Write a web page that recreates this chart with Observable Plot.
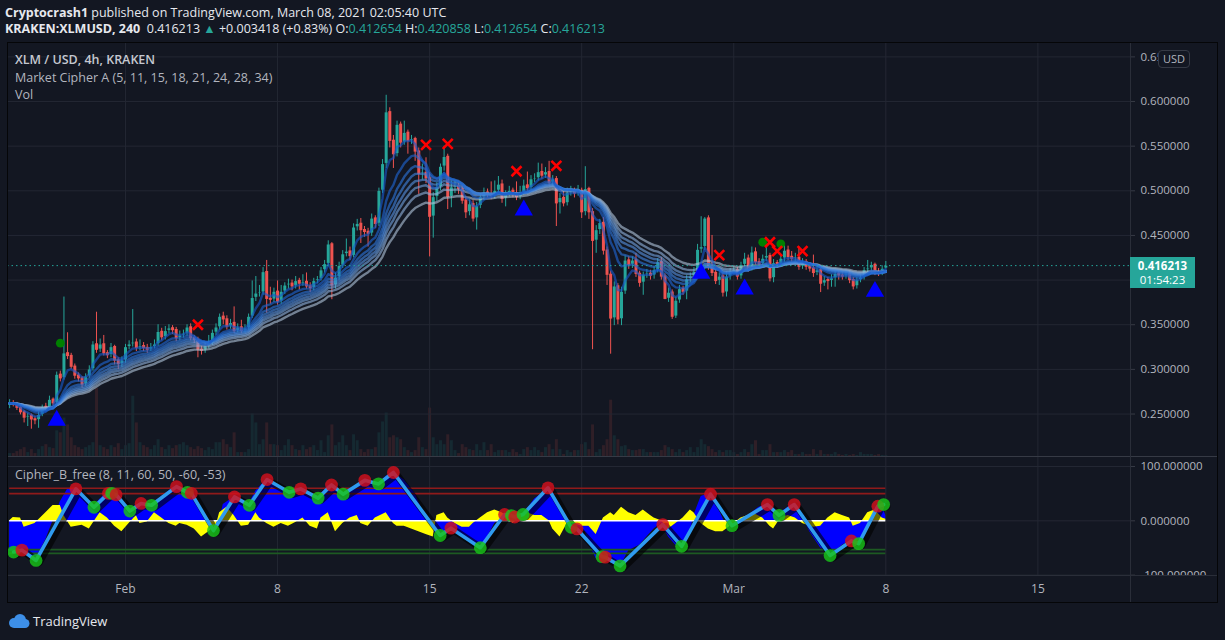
<!DOCTYPE html>
<html><head><meta charset="utf-8">
<script src="https://cdn.jsdelivr.net/npm/d3@7"></script>
<script src="https://cdn.jsdelivr.net/npm/@observablehq/plot@0.6"></script>
<style>
html,body{margin:0;padding:0;background:#131722;}
#root{position:relative;width:1225px;height:640px;overflow:hidden;background:#131722;font-family:'Open Sans','Noto Sans',sans-serif;}
#root svg{position:absolute;left:0;}
.abs{position:absolute;white-space:nowrap;}
.hd{color:#e6e8ee;font-size:12.5px;line-height:17px;left:5px;}
.lg{color:#b2b5be;font-size:12.5px;line-height:17px;left:15px;}
.tl{color:#26a69a;}
</style></head>
<body><div id="root"></div>
<script>
// ---------------- DATA ----------------
const seriesStart = "2021-01-26T16:00:00Z";   // first 4h candle
const firstOpen = 0.259;
const close = [
0.262,0.261,0.257,0.252,0.246,0.248,0.244,0.243,0.249,0.258,
0.256,0.266,0.262,0.294,0.290,0.318,0.315,0.303,0.293,0.290,
0.283,0.292,0.300,0.328,0.322,0.328,0.318,0.316,0.325,0.310,
0.306,0.310,0.325,0.328,0.330,0.324,0.326,0.324,0.322,0.325,
0.328,0.342,0.336,0.343,0.346,0.344,0.335,0.338,0.340,0.347,
0.335,0.333,0.322,0.321,0.326,0.329,0.341,0.347,0.359,0.356,
0.348,0.352,0.343,0.347,0.343,0.346,0.359,0.380,0.385,0.386,
0.409,0.379,0.378,0.387,0.376,0.387,0.394,0.396,0.393,0.399,
0.396,0.398,0.393,0.391,0.399,0.401,0.411,0.418,0.440,0.394,
0.403,0.416,0.429,0.432,0.427,0.459,0.463,0.456,0.454,0.452,
0.469,0.463,0.500,0.530,0.588,0.556,0.541,0.574,0.554,0.565,
0.556,0.558,0.544,0.519,0.520,0.514,0.471,0.493,0.504,0.527,
0.538,0.493,0.504,0.505,0.502,0.489,0.476,0.485,0.469,0.483,
0.493,0.498,0.496,0.494,0.500,0.507,0.491,0.496,0.500,0.497,
0.493,0.498,0.506,0.503,0.513,0.514,0.521,0.517,0.521,0.509,
0.513,0.486,0.492,0.486,0.498,0.500,0.497,0.500,0.476,0.502,
0.476,0.444,0.456,0.464,0.433,0.406,0.357,0.393,0.356,0.387,
0.422,0.417,0.422,0.407,0.397,0.406,0.407,0.405,0.411,0.420,
0.404,0.379,0.386,0.359,0.377,0.390,0.387,0.401,0.404,0.409,
0.434,0.437,0.469,0.415,0.408,0.399,0.404,0.386,0.404,0.409,
0.411,0.404,0.417,0.424,0.413,0.431,0.420,0.418,0.424,0.427,
0.402,0.419,0.417,0.424,0.433,0.426,0.424,0.425,0.415,0.420,
0.415,0.413,0.408,0.411,0.396,0.400,0.399,0.402,0.407,0.405,
0.404,0.407,0.400,0.393,0.400,0.403,0.411,0.413,0.417,0.409,
0.407,0.412795,0.416213];
const high = [
0.266,0.265,0.263,0.259,0.254,0.251,0.250,0.247,0.252,0.260,
0.262,0.270,0.268,0.297,0.298,0.381,0.341,0.318,0.306,0.296,
0.292,0.295,0.304,0.331,0.364,0.334,0.338,0.321,0.329,0.327,
0.313,0.314,0.328,0.332,0.367,0.334,0.333,0.330,0.328,0.329,
0.333,0.350,0.346,0.348,0.350,0.349,0.347,0.343,0.344,0.350,
0.351,0.338,0.336,0.326,0.330,0.338,0.344,0.351,0.362,0.364,
0.360,0.356,0.370,0.351,0.355,0.350,0.362,0.399,0.404,0.394,
0.414,0.422,0.392,0.391,0.399,0.394,0.397,0.401,0.400,0.404,
0.402,0.406,0.408,0.397,0.402,0.404,0.414,0.422,0.444,0.442,
0.408,0.420,0.433,0.446,0.437,0.463,0.468,0.469,0.460,0.458,
0.474,0.472,0.503,0.535,0.607,0.593,0.562,0.578,0.577,0.578,
0.568,0.562,0.560,0.548,0.530,0.537,0.520,0.498,0.509,0.530,
0.550,0.541,0.511,0.511,0.508,0.506,0.494,0.490,0.489,0.487,
0.497,0.503,0.502,0.510,0.511,0.516,0.512,0.500,0.505,0.503,
0.510,0.505,0.512,0.521,0.517,0.519,0.531,0.530,0.526,0.533,
0.517,0.516,0.497,0.499,0.503,0.505,0.503,0.506,0.503,0.527,
0.504,0.480,0.461,0.468,0.470,0.437,0.410,0.398,0.396,0.392,
0.427,0.426,0.426,0.430,0.410,0.409,0.412,0.411,0.415,0.424,
0.425,0.407,0.391,0.389,0.381,0.394,0.393,0.405,0.408,0.414,
0.440,0.471,0.470,0.472,0.450,0.412,0.408,0.407,0.409,0.413,
0.415,0.414,0.420,0.430,0.428,0.437,0.436,0.424,0.428,0.437,
0.430,0.423,0.422,0.428,0.439,0.438,0.432,0.430,0.437,0.424,
0.423,0.418,0.428,0.414,0.413,0.404,0.403,0.406,0.411,0.410,
0.408,0.411,0.410,0.403,0.403,0.406,0.414,0.422,0.420,0.419,
0.413,0.416,0.420858];
const low = [
0.256,0.258,0.254,0.249,0.240,0.236,0.233,0.238,0.234,0.247,
0.253,0.254,0.259,0.260,0.286,0.288,0.311,0.300,0.289,0.286,
0.279,0.281,0.290,0.298,0.318,0.319,0.315,0.312,0.313,0.305,
0.300,0.302,0.307,0.322,0.325,0.320,0.321,0.320,0.318,0.320,
0.323,0.326,0.332,0.333,0.340,0.339,0.331,0.332,0.335,0.337,
0.332,0.329,0.313,0.316,0.318,0.323,0.327,0.338,0.344,0.350,
0.344,0.345,0.340,0.341,0.340,0.341,0.344,0.357,0.376,0.381,
0.383,0.363,0.373,0.375,0.372,0.373,0.384,0.390,0.388,0.390,
0.389,0.393,0.390,0.386,0.388,0.396,0.399,0.408,0.415,0.378,
0.390,0.400,0.413,0.426,0.422,0.425,0.455,0.441,0.448,0.437,
0.449,0.458,0.460,0.497,0.525,0.548,0.525,0.538,0.548,0.551,
0.541,0.552,0.533,0.496,0.512,0.508,0.426,0.447,0.488,0.500,
0.522,0.479,0.481,0.497,0.496,0.485,0.469,0.472,0.465,0.456,
0.480,0.489,0.492,0.490,0.491,0.497,0.486,0.482,0.493,0.492,
0.489,0.490,0.495,0.499,0.500,0.509,0.511,0.513,0.514,0.505,
0.505,0.460,0.474,0.482,0.483,0.494,0.492,0.494,0.469,0.472,
0.468,0.322,0.430,0.451,0.428,0.394,0.317,0.349,0.350,0.349,
0.384,0.412,0.413,0.403,0.392,0.383,0.402,0.400,0.401,0.408,
0.400,0.378,0.375,0.356,0.357,0.374,0.383,0.378,0.397,0.400,
0.405,0.430,0.433,0.411,0.404,0.395,0.394,0.381,0.381,0.400,
0.406,0.400,0.401,0.414,0.409,0.410,0.417,0.414,0.415,0.421,
0.398,0.397,0.413,0.414,0.420,0.422,0.420,0.421,0.411,0.412,
0.411,0.409,0.403,0.405,0.386,0.393,0.389,0.392,0.392,0.400,
0.400,0.401,0.396,0.389,0.390,0.397,0.400,0.408,0.410,0.405,
0.404,0.405,0.412654];
const volume = [
4,4,6,8,10,5,8,4,8,11,13,10,9,
27,25,40,33,20,12,10,8,
10,12,15,70,12,10,8,12,10,14,8,
12,14,62,35,15,12,10,8,12,18,
10,8,12,9,12,13,15,12,10,8,11,9,7,10,8,15,15,18,13,10,25,5,5,5,8,44,35,13,18,35,13,13,12,7,12,18,12,8,7,12,8,
10,12,7,17,5,22,33,12,15,22,12,7,23,17,8,5,8,8,10,25,36,45,20,22,20,18,10,7,5,7,20,10,8,50,20,13,17,13,23,17,7,4,
13,10,8,7,13,7,15,7,13,5,7,7,7,5,8,5,3,8,10,7,
10,7,5,10,13,8,18,8,3,7,5,7,7,13,15,8,33,5,8,12,18,
58,22,18,11,12,8,7,7,8,8,5,5,5,5,7,12,10,8,5,8,5,7,10,5,10,18,13,11,8,5,7,5,7,7,5,3,5,8,5,13,17,
3,7,7,13,5,5,5,7,5,7,3,3,5,3,3,8,3,7,3,3,3,5,3,2,3,2,3,2,5,3,3,3,2,3,2,2];

// Market Cipher A ribbon lengths
const emaLengths = [5, 11, 15, 18, 21, 24, 28, 34];
const ribbonColors = ["#1659c9","#1f66d2","#2c74d8","#3f82db","#5690db","#709fda","#8eb0d8","#adc1d6"];

// Market Cipher A signals (candle index, price level)
const triIdx = [13, 142, 191, 203, 239];
const triPrice = [0.2428, 0.4783, 0.4074, 0.3898, 0.3872];
const crossSigIdx = [52, 115, 121, 140, 151, 196, 210, 212, 219];
const crossSigPrice = [0.350, 0.5515, 0.5526, 0.5219, 0.528, 0.4279, 0.4424, 0.4324, 0.4324];
const greenSigIdx = [14, 208, 213];
const greenSigPrice = [0.3293, 0.4424, 0.4406];

// Cipher B: wave crosses (index, value, direction)
const crossIdx = [1.1,3.4,7.3,18.3,23.3,27.3,28.2,29.4,33.2,36.3,39.2,46.1,49.1,50.2,56.3,62.1,66.2,71.1,77.2,80.4,85.2,88.9,92.1,98.1,101.9,106,118.9,121.9,130,136.7,138.6,139.5,141.8,148.7,155.1,156.7,163.6,164.5,168.6,180.4,185.6,193.6,199.5,209.3,212.5,216.7,226.6,232.5,234.5,239.8,241.4];
const crossVal = [-57.5,-54,-73,59,25,50.6,50.6,48,18,32,28.6,63,52.5,50.6,-18,44,28.6,76,52.5,58.8,41.8,66,49,74.5,68,89,-27,-13.5,-49.5,11.6,9.7,7,11.6,60.7,-12,-15,-66,-67,-83,-7,-47,49,-9,30,10,30,-64,-37,-42,27,30];
const crossDir = ["up","down","up","down","up","down","up","down","up","down","up","down","up","down","up","down","up","down","up","down","up","down","up","down","up","down","up","down","up","down","up","down","up","down","up","down","up","down","up","down","up","down","up","down","up","down","up","down","up","down","up"];
// Cipher B: wave area (blue)
const waveIdx = [0,3,7,10,12,14,16,18,21,23,25,27,29,32,33,34,36,39,42,45,46,49,51,53,55,56,58,59,62,64,66,68,71,74,77,80,83,85,88,89,92,95,98,102,104,106,109,112,114,116,117,119,121,124,127,129,130,132,134,136,138,142,145,149,151,154,156,159,160,162,164,166,169,171,174,176,178,180,182,184,186,188,189,191,194,196,198,199,202,205,207,209,211,214,216,219,221,224,227,230,232,235,237,239,241,242];
const waveVal = [-57,-55,-73,-35,0,35,58,60,40,25,40,52,48,30,18,25,32,29,45,60,63,52,45,25,0,-18,0,30,44,35,29,55,76,60,52,57,45,40,65,66,50,60,74,68,82,89,75,50,20,0,-20,-27,-15,-25,-40,-48,-49,-30,-5,5,10,12,40,60,40,0,-12,-20,-40,-70,-60,-78,-80,-55,-45,-30,-15,-5,-30,-45,-47,-20,10,45,52,20,-10,-8,-5,15,25,30,15,20,30,5,-20,-50,-62,-45,-37,-35,-10,15,27,10];
// Cipher B: money flow area (yellow)
const flowIdx = [0,1,3,4,7,10,12,14,15,17,20,22,24,25,27,29,31,33,35,36,38,40,42,44,46,47,49,51,53,55,57,58,60,62,64,66,68,69,71,73,75,77,79,81,83,85,86,88,90,92,94,96,97,99,101,104,106,107,109,111,113,115,117,118,120,121,123,125,127,128,130,132,134,136,138,139,141,143,145,147,149,150,152,154,156,158,160,162,164,166,167,169,171,173,175,177,178,180,182,184,186,188,189,191,193,195,197,199,200,202,204,206,208,210,211,213,215,217,219,221,222,224,226,228,230,232,233,235,237,239,241,242];
const flowVal = [0,6,5,-12,-5,15,28,28,10,-12,-8,-15,5,15,5,-10,-20,-5,10,-5,-2,15,5,-5,-10,-5,-8,-15,-30,-20,-10,15,25,10,-10,-8,15,5,-5,-12,-5,-10,-3,5,-10,-15,5,15,-20,-5,5,10,-5,-10,5,15,-5,-10,-10,-15,-20,-25,-30,10,15,5,-5,-12,-12,-5,5,15,20,15,5,-5,10,15,10,10,0,-15,-30,-5,-5,-10,-10,-25,5,15,10,25,15,10,20,10,5,0,-15,-5,5,20,15,-5,-15,-20,-20,-10,-5,5,10,12,5,-10,-15,5,10,5,-5,-10,-12,-10,5,15,10,5,-10,-5,15,20,5,3];
const obLevels = [60, 50];
const osLevels = [-53, -60];

// axes
const priceGridTicks = [0.25,0.30,0.35,0.40,0.45,0.50,0.55,0.60,0.65];
const priceLabelTicks = [0.25,0.30,0.35,0.45,0.50,0.55,0.60,0.65]; // 0.40 sits under the last-price label
const oscTicks = [-100, 0, 100];
const dateTicks = ["2021-02-01","2021-02-08","2021-02-15","2021-02-22","2021-03-01","2021-03-08","2021-03-15"];
const dateTickLabels = ["Feb","8","15","22","Mar","8","15"];

// ---------------- BUILD ----------------
const H4 = 4 * 3600 * 1000;
const t0 = new Date(seriesStart).getTime();
const T = i => new Date(t0 + i * H4);
const candles = close.map((c, i) => {
  const o = i ? close[i - 1] : firstOpen;
  return {t: T(i), o, h: high[i], l: low[i], c, v: volume[i], up: c >= o};
});
const last = candles[candles.length - 1];
const lastI = candles.length - 1;
const xTicks = dateTicks.map(s => new Date(s + "T00:00:00Z"));
const tickLabel = d => dateTickLabels[xTicks.findIndex(x => +x === +d)] ?? "";
const xDomain = [T(-0.59), T(309.58)];
const UP = "#26a69a", DN = "#ef5350", GRID = "#232733", TXT = "#b2b5be";
const FONT = "'Open Sans','Noto Sans',sans-serif";
const emaMap = n => values => { const a = 2 / (n + 1); let p; return Array.from(values, v => (p = p === undefined ? v : a * v + (1 - a) * p)); };
const rows = (idx, val, extra) => idx.map((i, k) => ({t: T(i), v: val[k], ...(extra ? {d: extra[k]} : {})}));

const common = {width: 1225, marginLeft: 7, marginRight: 95, marginTop: 0,
  style: {background: "transparent", color: TXT, fontFamily: FONT, fontSize: "11.5px", overflow: "visible"},
  color: {type: "identity"}};

// volume pane (behind price)
const volPlot = Plot.plot({...common, height: 415, marginBottom: 0,
  x: {type: "utc", domain: xDomain, axis: null},
  y: {domain: [0, 6 * d3.max(volume)], axis: null},
  marks: [
    Plot.ruleX(candles, {x: "t", y1: () => 0, y2: "v", stroke: d => d.up ? UP : DN, strokeWidth: 3, strokeOpacity: 0.13})
  ]});

// price pane
const mainPlot = Plot.plot({...common, height: 415, marginBottom: 0,
  x: {type: "utc", domain: xDomain, axis: null},
  y: {domain: [0.2013, 0.6661], axis: null},
  marks: [
    Plot.gridX(xTicks, {stroke: GRID, strokeOpacity: 1}),
    Plot.gridY(priceGridTicks, {stroke: GRID, strokeOpacity: 1}),
    Plot.axisY(priceLabelTicks, {anchor: "right", label: null, tickSize: 4, tickPadding: 6, stroke: "#363a45", fill: TXT, tickFormat: d => d.toFixed(6)}),
    Plot.ruleX(candles, {x: "t", y1: "l", y2: "h", stroke: d => d.up ? UP : DN, strokeWidth: 1, clip: true}),
    Plot.ruleX(candles, {x: "t", y1: "o", y2: "c", stroke: d => d.up ? UP : DN, strokeWidth: 3, insetTop: -0.6, insetBottom: -0.6, clip: true}),
    ...emaLengths.map((n, k) => ({n, k})).reverse().map(({n, k}) =>
      Plot.lineY(candles, Plot.mapY(emaMap(n), {x: "t", y: "c", stroke: ribbonColors[k], strokeWidth: 2.4, strokeOpacity: 0.62, clip: true}))),
    Plot.ruleY([last.c], {stroke: UP, strokeDasharray: "1.5,3", strokeWidth: 1}),
    Plot.dot(rows(greenSigIdx, greenSigPrice), {x: "t", y: "v", r: 4.4, fill: "#008000"}),
    Plot.dot(rows(crossSigIdx, crossSigPrice), {x: "t", y: "v", symbol: "times", r: 4.6, stroke: "#ff0000", strokeWidth: 2.6}),
    Plot.dot(rows(triIdx, triPrice), {x: "t", y: "v", symbol: "triangle", r: 6.8, fill: "#0000ff"})
  ]});

// oscillator pane
const tStart = () => T(0), tEnd = () => T(lastI);
const oscPlot = Plot.plot({...common, height: 146, marginBottom: 28,
  x: {type: "utc", domain: xDomain, axis: null},
  y: {domain: [-100.7, 116.6], axis: null},
  marks: [
    Plot.gridX(xTicks, {stroke: GRID, strokeOpacity: 1}),
    Plot.gridY(oscTicks, {stroke: GRID, strokeOpacity: 1}),
    Plot.axisY(oscTicks, {anchor: "right", label: null, tickSize: 4, tickPadding: 6, stroke: "#363a45", fill: TXT, tickFormat: d => d.toFixed(6)}),
    Plot.axisX(xTicks, {anchor: "bottom", label: null, tickSize: 0, tickPadding: 9, fill: TXT, fontSize: 12, tickFormat: tickLabel}),
    Plot.areaY(rows(waveIdx, waveVal), {x: "t", y1: () => 0, y2: "v", fill: "#0000ff", clip: true}),
    Plot.areaY(rows(flowIdx, flowVal), {x: "t", y1: () => 0, y2: "v", fill: "#ffff00", clip: true}),
    Plot.ruleY(obLevels, {x1: tStart, x2: tEnd, stroke: "#8f1a1a", strokeWidth: 1.6}),
    Plot.ruleY(osLevels, {x1: tStart, x2: tEnd, stroke: "#1d5a22", strokeWidth: 1.6}),
    Plot.ruleY([0], {x1: tStart, x2: tEnd, stroke: "#ffffff", strokeWidth: 1.6}),
    Plot.line(rows(crossIdx, crossVal), {x: "t", y: "v", stroke: "#000000", strokeWidth: 7.5, strokeOpacity: 0.6, dx: 3, dy: 2, clip: true}),
    Plot.line(rows(crossIdx, crossVal), {x: "t", y: "v", stroke: "#2f9bef", strokeWidth: 3.6, clip: true}),
    Plot.dot(rows(crossIdx, crossVal, crossDir), {x: "t", y: "v", r: 6.4, fill: d => d.d === "up" ? "#18c418" : "#d4101c", fillOpacity: 0.82})
  ]});

// ---------------- LAYOUT ----------------
const root = document.getElementById("root");
const place = (el, top) => { el.style.top = top + "px"; root.appendChild(el); return el; };
place(volPlot, 42); place(mainPlot, 42); place(oscPlot, 457);
const div = (css, html = "", cls = "abs") => { const d = document.createElement("div"); d.className = cls; d.style.cssText = css; d.innerHTML = html; root.appendChild(d); return d; };
// frame lines
div("left:7px;top:456px;width:1211px;height:1px;background:#363a45;");
div("left:1131px;top:576px;width:86px;height:26px;background:#131722;");
div("left:7px;top:575px;width:1211px;height:1px;background:#2a2e39;");
div("left:1130px;top:42px;width:1px;height:561px;background:#2a2e39;");
div("left:7px;top:42px;width:1211px;height:561px;border:1px solid #050608;box-sizing:border-box;");
// header
div("top:4px;", "<b>Cryptocrash1</b> published on TradingView.com, March 08, 2021 02:05:40 UTC", "abs hd");
const f6 = v => v.toFixed(6);
div("top:20px;", `<b>KRAKEN:XLMUSD, 240</b>&nbsp; ${f6(last.c)} <span class="tl">▲</span> +0.003418 (+0.83%) O:<span class="tl">0.412654</span> H:<span class="tl">${f6(last.h)}</span> L:<span class="tl">${f6(last.l)}</span> C:<span class="tl">${f6(last.c)}</span>`, "abs hd");
// legends
div("top:51px;font-weight:600;color:#c5c8d0;", "XLM / USD, 4h, KRAKEN", "abs lg");
div("top:69px;", "Market Cipher A (5, 11, 15, 18, 21, 24, 28, 34)", "abs lg");
div("top:86px;", "Vol", "abs lg");
div("top:466px;", "Cipher_B_free (8, 11, 60, 50, -60, -53)", "abs lg");
// price label
const yLast = 42 + mainPlot.scale("y").apply(last.c);
div(`left:1130px;top:${yLast - 8.5}px;width:65px;height:31px;background:#26a69a;color:#fff;font-size:11.5px;line-height:14px;padding-top:2px;box-sizing:border-box;text-align:center;font-family:${FONT};`,
  `<b>${f6(last.c)}</b><br>01:54:23`);
// USD badge
div(`left:1158px;top:50px;width:32px;height:18px;border:1px solid #363a45;border-radius:4px;background:#131722;color:${TXT};font-size:11px;line-height:16px;text-align:center;box-sizing:border-box;`, "USD");
// TradingView logo
div("left:8px;top:612px;", `<svg width="22" height="16" viewBox="0 0 22 16" style="position:static"><g fill="#3d8fe8"><circle cx="6" cy="10" r="5"/><circle cx="12" cy="7" r="6"/><circle cx="17" cy="10.5" r="4.5"/><rect x="6" y="9" width="11" height="6"/></g></svg>`);
div("left:33px;top:612px;color:#e6e8ee;font-size:13px;line-height:18px;", "TradingView");
</script>
</body></html>
